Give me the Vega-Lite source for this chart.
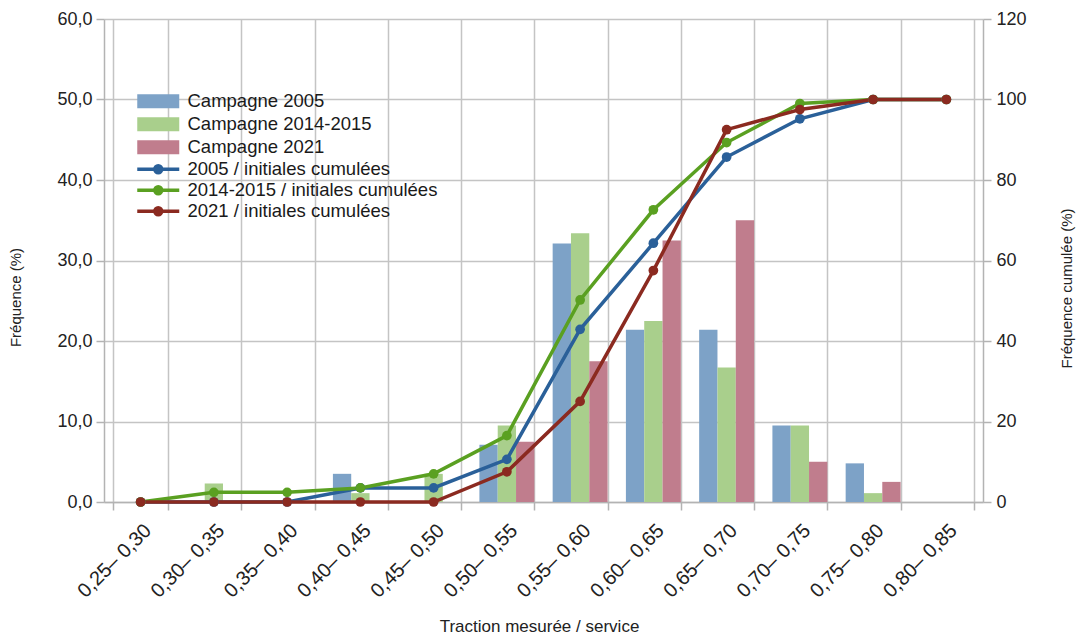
{
  "$schema": "https://vega.github.io/schema/vega-lite/v6.json",
  "width": 879,
  "height": 483,
  "autosize": {"type": "none"},
  "padding": {"left": 104, "top": 19, "right": 96, "bottom": 136},
  "background": "white",
  "config": {
    "view": {"stroke": null},
    "font": "Liberation Sans",
    "axis": {
      "domainColor": "#b3b3b3",
      "domainWidth": 1.5,
      "gridColor": "#c4c4c4",
      "gridWidth": 1.5,
      "tickColor": "#b3b3b3",
      "tickWidth": 1.5,
      "tickSize": 8,
      "labelColor": "#222222",
      "labelFont": "Liberation Sans",
      "labelFontSize": 18,
      "titleFont": "Liberation Sans",
      "titleFontWeight": "normal",
      "titleColor": "#222222",
      "titleFontSize": 15
    }
  },
  "datasets": {
    "freq": [
      {"bin": "0,25– 0,30", "serie": "Campagne 2005", "freq": 0},
      {"bin": "0,30– 0,35", "serie": "Campagne 2005", "freq": 0},
      {"bin": "0,35– 0,40", "serie": "Campagne 2005", "freq": 0},
      {"bin": "0,40– 0,45", "serie": "Campagne 2005", "freq": 3.5},
      {"bin": "0,45– 0,50", "serie": "Campagne 2005", "freq": 0},
      {"bin": "0,50– 0,55", "serie": "Campagne 2005", "freq": 7.1},
      {"bin": "0,55– 0,60", "serie": "Campagne 2005", "freq": 32.1},
      {"bin": "0,60– 0,65", "serie": "Campagne 2005", "freq": 21.4},
      {"bin": "0,65– 0,70", "serie": "Campagne 2005", "freq": 21.4},
      {"bin": "0,70– 0,75", "serie": "Campagne 2005", "freq": 9.5},
      {"bin": "0,75– 0,80", "serie": "Campagne 2005", "freq": 4.8},
      {"bin": "0,80– 0,85", "serie": "Campagne 2005", "freq": 0},
      {"bin": "0,25– 0,30", "serie": "Campagne 2014-2015", "freq": 0},
      {"bin": "0,30– 0,35", "serie": "Campagne 2014-2015", "freq": 2.3},
      {"bin": "0,35– 0,40", "serie": "Campagne 2014-2015", "freq": 0},
      {"bin": "0,40– 0,45", "serie": "Campagne 2014-2015", "freq": 1.1},
      {"bin": "0,45– 0,50", "serie": "Campagne 2014-2015", "freq": 3.5},
      {"bin": "0,50– 0,55", "serie": "Campagne 2014-2015", "freq": 9.5},
      {"bin": "0,55– 0,60", "serie": "Campagne 2014-2015", "freq": 33.4},
      {"bin": "0,60– 0,65", "serie": "Campagne 2014-2015", "freq": 22.5},
      {"bin": "0,65– 0,70", "serie": "Campagne 2014-2015", "freq": 16.7},
      {"bin": "0,70– 0,75", "serie": "Campagne 2014-2015", "freq": 9.5},
      {"bin": "0,75– 0,80", "serie": "Campagne 2014-2015", "freq": 1.1},
      {"bin": "0,80– 0,85", "serie": "Campagne 2014-2015", "freq": 0},
      {"bin": "0,25– 0,30", "serie": "Campagne 2021", "freq": 0},
      {"bin": "0,30– 0,35", "serie": "Campagne 2021", "freq": 0},
      {"bin": "0,35– 0,40", "serie": "Campagne 2021", "freq": 0},
      {"bin": "0,40– 0,45", "serie": "Campagne 2021", "freq": 0},
      {"bin": "0,45– 0,50", "serie": "Campagne 2021", "freq": 0},
      {"bin": "0,50– 0,55", "serie": "Campagne 2021", "freq": 7.5},
      {"bin": "0,55– 0,60", "serie": "Campagne 2021", "freq": 17.5},
      {"bin": "0,60– 0,65", "serie": "Campagne 2021", "freq": 32.5},
      {"bin": "0,65– 0,70", "serie": "Campagne 2021", "freq": 35},
      {"bin": "0,70– 0,75", "serie": "Campagne 2021", "freq": 5},
      {"bin": "0,75– 0,80", "serie": "Campagne 2021", "freq": 2.5},
      {"bin": "0,80– 0,85", "serie": "Campagne 2021", "freq": 0}
    ],
    "cum": [
      {"bin": "0,25– 0,30", "courbe": "2005 / initiales cumulées", "cum": 0},
      {"bin": "0,30– 0,35", "courbe": "2005 / initiales cumulées", "cum": 0},
      {"bin": "0,35– 0,40", "courbe": "2005 / initiales cumulées", "cum": 0},
      {"bin": "0,40– 0,45", "courbe": "2005 / initiales cumulées", "cum": 3.5},
      {"bin": "0,45– 0,50", "courbe": "2005 / initiales cumulées", "cum": 3.5},
      {"bin": "0,50– 0,55", "courbe": "2005 / initiales cumulées", "cum": 10.6},
      {"bin": "0,55– 0,60", "courbe": "2005 / initiales cumulées", "cum": 42.9},
      {"bin": "0,60– 0,65", "courbe": "2005 / initiales cumulées", "cum": 64.3},
      {"bin": "0,65– 0,70", "courbe": "2005 / initiales cumulées", "cum": 85.7},
      {"bin": "0,70– 0,75", "courbe": "2005 / initiales cumulées", "cum": 95.2},
      {"bin": "0,75– 0,80", "courbe": "2005 / initiales cumulées", "cum": 100},
      {"bin": "0,80– 0,85", "courbe": "2005 / initiales cumulées", "cum": 100},
      {"bin": "0,25– 0,30", "courbe": "2014-2015 / initiales cumulées", "cum": 0},
      {"bin": "0,30– 0,35", "courbe": "2014-2015 / initiales cumulées", "cum": 2.4},
      {"bin": "0,35– 0,40", "courbe": "2014-2015 / initiales cumulées", "cum": 2.4},
      {"bin": "0,40– 0,45", "courbe": "2014-2015 / initiales cumulées", "cum": 3.5},
      {"bin": "0,45– 0,50", "courbe": "2014-2015 / initiales cumulées", "cum": 7.0},
      {"bin": "0,50– 0,55", "courbe": "2014-2015 / initiales cumulées", "cum": 16.5},
      {"bin": "0,55– 0,60", "courbe": "2014-2015 / initiales cumulées", "cum": 50.2},
      {"bin": "0,60– 0,65", "courbe": "2014-2015 / initiales cumulées", "cum": 72.6},
      {"bin": "0,65– 0,70", "courbe": "2014-2015 / initiales cumulées", "cum": 89.3},
      {"bin": "0,70– 0,75", "courbe": "2014-2015 / initiales cumulées", "cum": 99.0},
      {"bin": "0,75– 0,80", "courbe": "2014-2015 / initiales cumulées", "cum": 100},
      {"bin": "0,80– 0,85", "courbe": "2014-2015 / initiales cumulées", "cum": 100},
      {"bin": "0,25– 0,30", "courbe": "2021 / initiales cumulées", "cum": 0},
      {"bin": "0,30– 0,35", "courbe": "2021 / initiales cumulées", "cum": 0},
      {"bin": "0,35– 0,40", "courbe": "2021 / initiales cumulées", "cum": 0},
      {"bin": "0,40– 0,45", "courbe": "2021 / initiales cumulées", "cum": 0},
      {"bin": "0,45– 0,50", "courbe": "2021 / initiales cumulées", "cum": 0},
      {"bin": "0,50– 0,55", "courbe": "2021 / initiales cumulées", "cum": 7.5},
      {"bin": "0,55– 0,60", "courbe": "2021 / initiales cumulées", "cum": 25},
      {"bin": "0,60– 0,65", "courbe": "2021 / initiales cumulées", "cum": 57.5},
      {"bin": "0,65– 0,70", "courbe": "2021 / initiales cumulées", "cum": 92.5},
      {"bin": "0,70– 0,75", "courbe": "2021 / initiales cumulées", "cum": 97.5},
      {"bin": "0,75– 0,80", "courbe": "2021 / initiales cumulées", "cum": 100},
      {"bin": "0,80– 0,85", "courbe": "2021 / initiales cumulées", "cum": 100}
    ]
  },
  "layer": [
    {
      "data": {"name": "freq"},
      "mark": {"type": "bar"},
      "encoding": {
        "x": {
          "field": "bin",
          "type": "nominal",
          "sort": null,
          "scale": {"paddingInner": 0.25, "paddingOuter": 0.125},
          "axis": {
            "title": "Traction mesurée / service",
            "titleFontSize": 17,
            "titlePadding": 18,
            "titleX": 435,
            "labelAngle": -45,
            "labelFontSize": 20,
            "labelPadding": 10,
            "tickBand": "extent",
            "grid": true
          }
        },
        "xOffset": {"field": "serie", "type": "nominal", "scale": {"paddingInner": 0, "paddingOuter": 0}},
        "y": {
          "field": "freq",
          "type": "quantitative",
          "scale": {"domain": [0, 60], "nice": false},
          "axis": {
            "title": "Fréquence (%)",
            "values": [0, 10, 20, 30, 40, 50, 60],
            "labelExpr": "replace(format(datum.value, '.1f'), '.', ',')",
            "labelPadding": 4,
            "titlePadding": 33,
            "titleY": 278,
            "grid": true
          }
        },
        "fill": {
          "field": "serie",
          "type": "nominal",
          "scale": {
            "domain": ["Campagne 2005", "Campagne 2014-2015", "Campagne 2021"],
            "range": ["#7da2c7", "#a9cf8c", "#c07d8d"]
          },
          "legend": {
            "title": null,
            "orient": "none",
            "legendX": 59,
            "legendY": 73,
            "symbolType": "M-5,-1 H1 V1 H-5 Z",
            "symbolSize": 196,
            "labelFontSize": 18.5,
            "labelLimit": 0,
            "labelColor": "#1a1a1a",
            "labelFont": "Liberation Sans",
            "labelOffset": 6,
            "rowPadding": 2,
            "encode": {"symbols": {"update": {"fill": {"scale": "fill", "field": "value"}, "stroke": {"value": "transparent"}, "opacity": {"value": 1}}}}
          }
        }
      }
    },
    {
      "data": {"name": "cum"},
      "mark": {"type": "line", "strokeWidth": 3.5, "point": {"filled": true, "size": 95}},
      "encoding": {
        "x": {"field": "bin", "type": "nominal", "sort": null},
        "y": {
          "field": "cum",
          "type": "quantitative",
          "scale": {"domain": [0, 120], "nice": false},
          "axis": {
            "orient": "right",
            "title": "Fréquence cumulée (%)",
            "values": [0, 20, 40, 60, 80, 100, 120],
            "format": "d",
            "labelPadding": 5,
            "titleAngle": -90,
            "titleAlign": "center",
            "titleBaseline": "middle",
            "titleX": 83,
            "titleY": 269,
            "grid": false
          }
        },
        "color": {
          "field": "courbe",
          "type": "nominal",
          "scale": {
            "domain": ["2005 / initiales cumulées", "2014-2015 / initiales cumulées", "2021 / initiales cumulées"],
            "range": ["#2a6099", "#5aa021", "#8b2a20"]
          },
          "legend": {
            "title": null,
            "orient": "none",
            "legendX": 59,
            "legendY": 141,
            "symbolType": "M-5,0 H1 M-2.5,0 A0.5,0.5 0 1,1 -1.5,0 A0.5,0.5 0 1,1 -2.5,0 Z",
            "symbolSize": 196,
            "labelFontSize": 18.5,
            "labelLimit": 0,
            "labelColor": "#1a1a1a",
            "labelFont": "Liberation Sans",
            "labelOffset": 6,
            "rowPadding": -1,
            "encode": {"symbols": {"update": {"fill": {"scale": "color", "field": "value"}, "stroke": {"scale": "color", "field": "value"}, "strokeWidth": {"value": 3.5}, "opacity": {"value": 1}}}}
          }
        }
      }
    }
  ],
  "resolve": {"scale": {"y": "independent"}}
}
